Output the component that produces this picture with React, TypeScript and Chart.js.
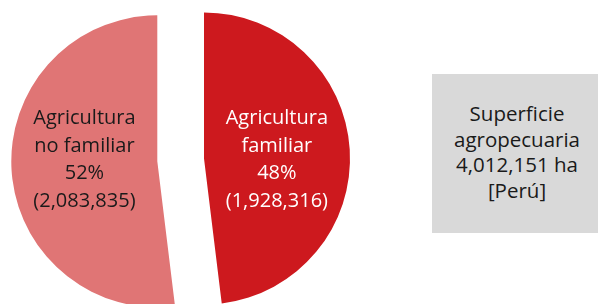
import { useEffect, useRef } from 'react';
import { Chart, registerables } from 'chart.js';

Chart.register(...registerables);

const categories = ['Agricultura familiar', 'Agricultura no familiar'];
const labelLines = [['Agricultura', 'familiar'], ['Agricultura', 'no familiar']];
const values = [1928316, 2083835];
const valueLabels = ['(1,928,316)', '(2,083,835)'];
const sliceColors = ['#CD191E', '#E07575'];
const textColors = ['#ffffff', '#1a1a1a'];
const totalLines = ['Superficie', 'agropecuaria', '4,012,151 ha', '[Perú]'];

const FONT = '"Open Sans", "Noto Sans", sans-serif';
const EXPLODE = 23.4; // px each slice is pulled out along its mid angle
const PIE_RADIUS = 146;

const total = values.reduce((a, b) => a + b, 0);

// Pull each arc out along its mid angle with parallel-edged gaps
const explodePlugin = {
  id: 'explode',
  afterUpdate(chart: any) {
    chart.getDatasetMeta(0).data.forEach((el: any) => {
      if (el.__exploded) return;
      const orig = el.draw.bind(el);
      el.draw = (ctx: CanvasRenderingContext2D) => {
        const mid = (el.startAngle + el.endAngle) / 2;
        ctx.save();
        ctx.translate(Math.cos(mid) * EXPLODE, Math.sin(mid) * EXPLODE);
        orig(ctx);
        ctx.restore();
      };
      el.__exploded = true;
    });
  },
};

const labelPlugin = {
  id: 'sliceLabels',
  afterDatasetsDraw(chart: any) {
    const ctx = chart.ctx;
    const meta = chart.getDatasetMeta(0);
    meta.data.forEach((el: any, i: number) => {
      const { x, y, startAngle, endAngle, outerRadius } = el.getProps(
        ['x', 'y', 'startAngle', 'endAngle', 'outerRadius'],
        true
      );
      const mid = (startAngle + endAngle) / 2;
      const dist = EXPLODE + 0.5 * outerRadius;
      const cx = x + Math.cos(mid) * dist;
      const cy = y;
      const pct = Math.round((values[i] / total) * 100) + '%';
      const lines = [...labelLines[i], pct, valueLabels[i]];
      const lh = 27.6;
      ctx.save();
      ctx.font = `20px ${FONT}`;
      ctx.fillStyle = textColors[i];
      ctx.textAlign = 'center';
      ctx.textBaseline = 'middle';
      lines.forEach((ln, k) => {
        ctx.fillText(ln, cx, cy + (k - (lines.length - 1) / 2) * lh);
      });
      ctx.restore();
    });
  },
};

export default function App() {
  const ref = useRef<HTMLCanvasElement>(null);
  useEffect(() => {
    const chart = new Chart(ref.current!, {
      type: 'pie',
      data: {
        labels: categories,
        datasets: [
          {
            data: values,
            backgroundColor: sliceColors,
            borderWidth: 0,
            radius: PIE_RADIUS,
          } as any,
        ],
      },
      options: {
        responsive: false,
        animation: false,
        radius: PIE_RADIUS,
        layout: { padding: { left: 0, right: 236.7, top: 15.8, bottom: 0 } },
        plugins: { legend: { display: false }, tooltip: { enabled: false } },
      } as any,
      plugins: [explodePlugin, labelPlugin],
    });
    return () => chart.destroy();
  }, []);

  return (
    <div style={{ position: 'fixed', left: 0, top: 0, width: 598, height: 304, background: '#fff' }}>
      <canvas ref={ref} width={598} height={304} style={{ display: 'block' }} />
      <div
        style={{
          position: 'absolute',
          left: 432,
          top: 74,
          width: 166,
          height: 159,
          background: '#D9D9D9',
          display: 'flex',
          flexDirection: 'column',
          justifyContent: 'center',
          alignItems: 'center',
          fontFamily: FONT,
          fontSize: 20.5,
          lineHeight: '25.5px',
          color: '#1a1a1a',
          paddingLeft: 4,
          paddingBottom: 3,
          boxSizing: 'border-box',
        }}
      >
        {totalLines.map((l) => (
          <div key={l} style={{ whiteSpace: 'nowrap', textAlign: 'center' }}>
            {l}
          </div>
        ))}
      </div>
    </div>
  );
}
